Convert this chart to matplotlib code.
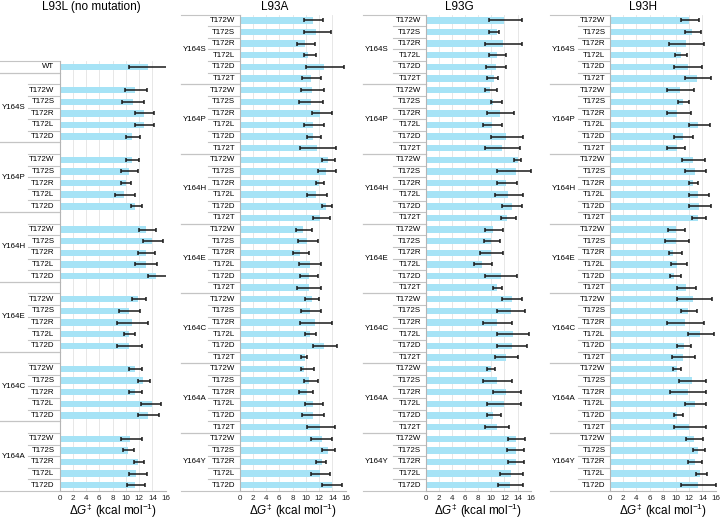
import numpy as np
import matplotlib.pyplot as plt
from matplotlib import transforms

plt.rcParams['font.family'] = ['Liberation Sans', 'DejaVu Sans']
plt.rcParams['mathtext.fontset'] = 'custom'
plt.rcParams['mathtext.rm'] = 'Liberation Sans'
plt.rcParams['mathtext.it'] = 'Liberation Sans:italic'
plt.rcParams['mathtext.fallback'] = 'stixsans'

groups_164 = ['Y164S', 'Y164P', 'Y164H', 'Y164E', 'Y164C', 'Y164A', 'Y164Y']
subs_172 = ['T172W', 'T172S', 'T172R', 'T172L', 'T172D', 'T172T']
titles = ['L93L (no mutation)', 'L93A', 'L93G', 'L93H']

# L93L: WT row, then Y164S..Y164A x T172W..T172D
wt_val, wt_lo, wt_hi = 13.4, 10.5, 17.0
l93l_val = [11.4, 11.0, 12.7, 12.7, 10.9,
            10.9, 10.4, 10.0, 9.7, 11.4,
            13.1, 13.9, 13.0, 13.0, 14.6,
            11.8, 10.5, 10.9, 10.4, 10.4,
            11.3, 12.6, 11.3, 13.9, 13.3,
            10.6, 10.3, 11.8, 11.6, 11.4]
l93l_lo = [9.8, 9.4, 11.3, 11.4, 10.0,
           10.0, 9.2, 9.3, 8.3, 10.7,
           12.0, 12.6, 11.8, 11.4, 13.3,
           10.9, 9.0, 8.6, 9.7, 8.6,
           10.5, 11.8, 10.4, 12.3, 11.8,
           9.3, 9.6, 11.2, 10.4, 10.2]
l93l_hi = [13.2, 12.8, 14.3, 14.3, 12.1,
           12.0, 11.8, 10.7, 11.4, 12.4,
           14.5, 15.6, 14.4, 14.7, 16.5,
           13.1, 12.2, 13.4, 11.4, 12.5,
           12.5, 13.7, 12.5, 15.3, 15.0,
           12.5, 11.2, 12.8, 13.2, 12.9]

# L93A / L93G / L93H: Y164S..Y164A x T172W..T172T, Y164Y x T172W..T172D
l93a_val = [11.0, 11.6, 9.9, 10.3, 12.8, 10.7,
            10.9, 10.7, 12.2, 11.1, 11.1, 11.7,
            13.3, 13.1, 12.0, 11.5, 13.1, 12.2,
            9.6, 10.2, 9.1, 10.6, 10.4, 10.4,
            10.9, 10.6, 11.4, 10.6, 12.7, 9.8,
            9.7, 10.5, 10.1, 11.1, 11.0, 12.1,
            12.4, 13.4, 12.4, 12.2, 13.9]
l93a_lo = [9.7, 9.7, 8.7, 9.7, 10.0, 9.4,
           9.3, 9.0, 10.9, 9.7, 10.1, 9.1,
           12.4, 11.9, 11.5, 10.1, 12.4, 11.0,
           8.5, 8.8, 8.0, 9.0, 9.1, 8.7,
           9.9, 9.2, 9.1, 9.9, 11.0, 9.3,
           9.3, 9.7, 9.0, 9.9, 9.4, 10.1,
           10.8, 12.5, 11.5, 10.7, 12.5]
l93a_hi = [12.6, 13.8, 11.3, 11.6, 15.8, 12.3,
           12.7, 12.6, 14.0, 12.7, 12.3, 14.6,
           14.4, 14.5, 12.8, 13.2, 14.0, 13.7,
           10.9, 11.8, 10.5, 12.3, 11.8, 12.3,
           12.0, 12.3, 13.9, 11.5, 14.7, 10.2,
           11.2, 11.8, 11.1, 12.6, 12.7, 14.4,
           13.9, 14.4, 13.0, 13.6, 15.5]

l93g_val = [12.0, 10.8, 11.8, 10.8, 10.7, 10.4,
            9.8, 10.3, 11.3, 10.1, 12.2, 11.7,
            14.1, 13.7, 12.2, 12.6, 13.1, 12.4,
            10.3, 10.0, 9.9, 8.6, 11.4, 10.8,
            13.1, 13.0, 10.8, 13.3, 13.1, 12.2,
            9.9, 10.8, 12.3, 11.9, 10.3, 10.8,
            13.8, 13.7, 13.8, 13.0, 12.9]
l93g_lo = [9.6, 9.6, 9.1, 9.6, 9.2, 9.4,
           9.0, 9.9, 9.3, 8.8, 9.9, 9.1,
           13.5, 10.8, 10.8, 10.6, 11.6, 11.4,
           9.1, 8.9, 8.2, 7.3, 9.0, 10.2,
           11.6, 10.8, 8.7, 10.8, 10.8, 10.6,
           9.3, 8.7, 10.3, 9.3, 9.4, 9.0,
           12.5, 12.4, 12.6, 11.3, 11.0]
l93g_hi = [14.7, 11.1, 14.7, 12.3, 12.3, 11.0,
           10.8, 11.7, 13.4, 11.6, 14.8, 14.4,
           14.5, 16.1, 13.9, 14.9, 14.7, 13.8,
           11.8, 11.3, 11.8, 10.1, 13.9, 11.7,
           14.7, 15.2, 13.2, 15.8, 15.4, 14.0,
           10.5, 13.2, 14.5, 14.5, 11.5, 12.7,
           15.2, 15.0, 15.0, 14.8, 14.9]

l93h_val = [12.0, 12.4, 11.5, 10.7, 11.8, 13.1,
            10.6, 11.0, 10.2, 13.3, 11.0, 10.2,
            12.5, 12.8, 12.6, 13.3, 13.5, 13.3,
            10.0, 10.0, 9.6, 10.2, 9.7, 11.5,
            12.5, 11.8, 11.4, 13.6, 11.2, 11.0,
            10.1, 12.4, 11.8, 12.9, 10.2, 12.0,
            12.7, 13.3, 12.8, 13.6, 13.3]
l93h_lo = [10.7, 11.3, 8.9, 9.9, 9.7, 11.3,
           8.6, 10.3, 8.7, 11.9, 9.7, 8.7,
           10.9, 11.4, 12.0, 12.0, 11.9, 12.4,
           8.8, 8.3, 9.0, 9.2, 9.1, 10.2,
           10.1, 10.8, 8.6, 11.8, 10.2, 9.4,
           9.5, 10.4, 9.1, 11.4, 9.7, 9.7,
           11.5, 12.6, 11.8, 13.0, 10.8]
l93h_hi = [13.5, 13.8, 14.2, 11.7, 14.0, 15.3,
           12.7, 12.0, 12.2, 15.1, 12.6, 11.4,
           14.4, 14.5, 13.3, 15.0, 15.3, 14.5,
           11.3, 11.9, 10.9, 11.6, 10.8, 13.0,
           15.5, 13.1, 14.2, 15.8, 12.2, 12.8,
           10.8, 14.5, 14.5, 14.5, 11.1, 14.5,
           14.1, 14.4, 14.0, 14.7, 16.0]

BAR = '#a6e3f6'
LINE = '#c4c4c4'
W, H = 720, 520
ROW_H = 11.62
BOTTOM = 491

# pixel layout per panel: axes left/right, group col start, sub col start,
# group label centre, sub label right edge, title centre
layout = [
    (59.5, 165.7, 0, 28, 14, 54.5, 91.7),
    (239.5, 345.7, 181, 208, 195, 235, 275),
    (425.7, 530.7, 363, 393, 376.5, 421, 459),
    (610, 715.7, 550, 578, 564, 605.5, 642.5),
]


def fx(px):
    return px / W


def fy(py):
    return 1 - py / H


def panel_rows(vals, los, his, first):
    """Return row labels, values and groups as (name, start, stop)."""
    labels, v, lo, hi, groups = [], [], [], [], []
    k = 0
    if first:
        labels.append('WT'); v.append(wt_val); lo.append(wt_lo); hi.append(wt_hi)
        groups.append(('', 0, 1))
        for g in groups_164[:6]:
            start = len(labels)
            labels.append(''); v.append(np.nan); lo.append(np.nan); hi.append(np.nan)
            for s in subs_172[:5]:
                labels.append(s); v.append(vals[k]); lo.append(los[k]); hi.append(his[k])
                k += 1
            groups.append((g, start, len(labels)))
    else:
        for g in groups_164:
            start = len(labels)
            subs = subs_172 if g != 'Y164Y' else subs_172[:5]
            for s in subs:
                labels.append(s); v.append(vals[k]); lo.append(los[k]); hi.append(his[k])
                k += 1
            groups.append((g, start, len(labels)))
    return labels, np.array(v), np.array(lo), np.array(hi), groups


data = [
    (l93l_val, l93l_lo, l93l_hi),
    (l93a_val, l93a_lo, l93a_hi),
    (l93g_val, l93g_lo, l93g_hi),
    (l93h_val, l93h_lo, l93h_hi),
]

fig = plt.figure(figsize=(7.2, 5.2), dpi=100)

for i, (vals, los, his) in enumerate(data):
    left, right, gx0, sx0, gcx, srx, tcx = layout[i]
    labels, v, lo, hi, groups = panel_rows(vals, los, his, i == 0)
    n = len(labels)
    ax = fig.add_axes([fx(left), fy(BOTTOM), fx(right - left), n * ROW_H / H])
    y = np.arange(n)
    m = np.isfinite(v)
    ax.barh(y[m], v[m], height=0.55, color=BAR, zorder=2)
    ax.errorbar(v[m], y[m], xerr=[v[m] - lo[m], hi[m] - v[m]], fmt='none',
                ecolor='#1a1a1a', elinewidth=1.1, capsize=1.7, capthick=1.1, zorder=3)
    ax.set_xlim(0, 16)
    ax.set_ylim(n - 0.5, -0.5)
    ax.set_xticks(range(0, 17, 2))
    ax.set_yticks([])
    ax.grid(axis='x', color='#e3e3e3', lw=0.6, zorder=0)
    ax.set_axisbelow(True)
    ax.spines['top'].set_visible(False)
    ax.spines['right'].set_visible(False)
    ax.spines['left'].set_color('#b5b5b5')
    ax.spines['bottom'].set_color('#b5b5b5')
    ax.spines['left'].set_linewidth(0.8)
    ax.spines['bottom'].set_linewidth(0.8)
    ax.tick_params(axis='x', length=0, labelsize=5.8, pad=3, colors='#222222')
    ax.set_xlabel(r'$\Delta G^{\ddagger}$ (kcal mol$^{-1}$)', fontsize=8.5, labelpad=0)

    tr = transforms.blended_transform_factory(fig.transFigure, ax.transData)
    for j, lab in enumerate(labels):
        if lab:
            ax.text(fx(srx), j, lab, transform=tr, ha='right', va='center', fontsize=5.7)
    for g, a, b in groups:
        ax.plot([fx(gx0), fx(left)], [a - 0.5, a - 0.5], transform=tr, color=LINE,
                lw=0.8, clip_on=False)
        ax.plot([fx(gx0), fx(left)], [b - 0.5, b - 0.5], transform=tr, color=LINE,
                lw=0.8, clip_on=False)
        for r in range(a + 1, b):
            ax.plot([fx(sx0), fx(left)], [r - 0.5, r - 0.5], transform=tr, color=LINE,
                    lw=0.8, clip_on=False)
        if g:
            ax.text(fx(gcx), (a + b - 1) / 2, g, transform=tr, ha='center', va='center',
                    fontsize=5.7)
    fig.text(fx(tcx), fy(7), titles[i], ha='center', va='center', fontsize=8.5)

fig.savefig('out.png', dpi=100)
